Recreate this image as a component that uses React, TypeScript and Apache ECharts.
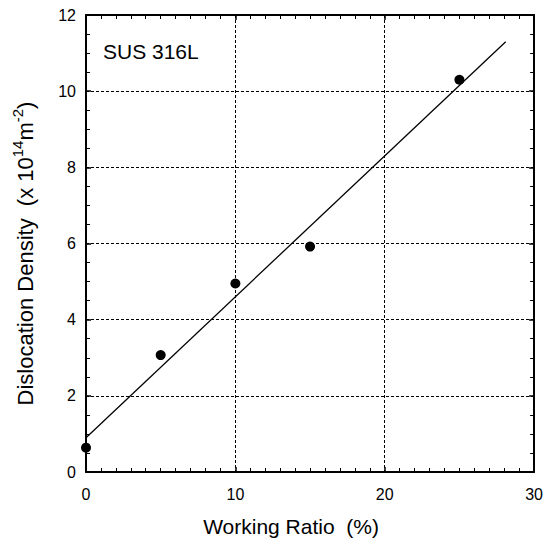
import React, { useEffect, useRef } from "react";
import * as echarts from "echarts";

const workingRatio = [0, 5, 10, 15, 25];
const dislocationDensity = [0.64, 3.07, 4.95, 5.92, 10.3];
const fitLineX = [0, 28.1];
const fitLineY = [0.9, 11.3];
const sampleLabel = "SUS 316L";
const xTitle = "Working Ratio  (%)";
const FONT = "'Liberation Sans', Arial, Helvetica, sans-serif";

export default function App() {
  const ref = useRef<HTMLDivElement>(null);
  useEffect(() => {
    if (!ref.current) return;
    const chart = echarts.init(ref.current, null, { renderer: "svg" });
    const baseAxis = {
      axisLine: { show: true, onZero: false, lineStyle: { color: "#000", width: 2 } },
      axisTick: { show: true, inside: true, length: 5, lineStyle: { color: "#000", width: 1.5 } },
      minorTick: { show: true, length: 4, lineStyle: { color: "#000", width: 1 } },
    };
    const gridLine = { show: true, lineStyle: { color: "#000", width: 1, type: [3, 2] as any } };
    chart.setOption({
      animation: false,
      backgroundColor: "#fff",
      textStyle: { fontFamily: FONT },
      grid: { left: 86, top: 15, width: 454, height: 457, containLabel: false },
      xAxis: [
        {
          type: "value",
          min: 0,
          max: 30,
          interval: 10,
          position: "bottom",
          ...baseAxis,
          minorTick: { ...baseAxis.minorTick, splitNumber: 10 },
          splitLine: gridLine,
          axisLabel: { color: "#000", fontSize: 16, margin: 14, fontFamily: FONT },
          name: xTitle,
          nameLocation: "middle",
          nameGap: 44,
          nameTextStyle: { color: "#000", fontSize: 21, fontFamily: FONT, padding: [0, 38, 0, 0] },
        },
        {
          type: "value",
          min: 0,
          max: 30,
          interval: 10,
          position: "top",
          ...baseAxis,
          minorTick: { ...baseAxis.minorTick, splitNumber: 10 },
          splitLine: { show: false },
          axisLabel: { show: false },
        },
      ],
      yAxis: [
        {
          type: "value",
          min: 0,
          max: 12,
          interval: 2,
          position: "left",
          ...baseAxis,
          minorTick: { ...baseAxis.minorTick, splitNumber: 4 },
          splitLine: gridLine,
          axisLabel: { color: "#000", fontSize: 16, margin: 10, fontFamily: FONT },
          name: "{b|Dislocation Density  (x 10}{s|14}{b|m}{s|-2}{b|)}",
          nameLocation: "middle",
          nameRotate: 90,
          nameGap: 50,
          nameTextStyle: {
            color: "#000",
            fontFamily: FONT,
            padding: [0, 20, 0, 0],
            rich: {
              b: { fontSize: 22, color: "#000", fontFamily: FONT, lineHeight: 26, verticalAlign: "bottom" },
              s: { fontSize: 15, color: "#000", fontFamily: FONT, lineHeight: 26, verticalAlign: "top" },
            },
          },
        },
        {
          type: "value",
          min: 0,
          max: 12,
          interval: 2,
          position: "right",
          ...baseAxis,
          minorTick: { ...baseAxis.minorTick, splitNumber: 4 },
          splitLine: { show: false },
          axisLabel: { show: false },
        },
      ],
      graphic: [
        {
          type: "text",
          left: 103,
          top: 41,
          style: { text: sampleLabel, fontSize: 21, fill: "#000", fontFamily: FONT },
        },
      ],
      series: [
        {
          type: "line",
          data: fitLineX.map((x, i) => [x, fitLineY[i]]),
          symbol: "none",
          lineStyle: { color: "#000", width: 1.3 },
          z: 3,
        },
        {
          type: "scatter",
          data: workingRatio.map((x, i) => [x, dislocationDensity[i]]),
          symbol: "circle",
          symbolSize: 10,
          itemStyle: { color: "#000", opacity: 1 },
          z: 4,
        },
      ],
    });
    return () => chart.dispose();
  }, []);
  return (
    <div
      ref={ref}
      style={{ position: "fixed", left: 0, top: 0, width: 546, height: 544, background: "#fff" }}
    />
  );
}
